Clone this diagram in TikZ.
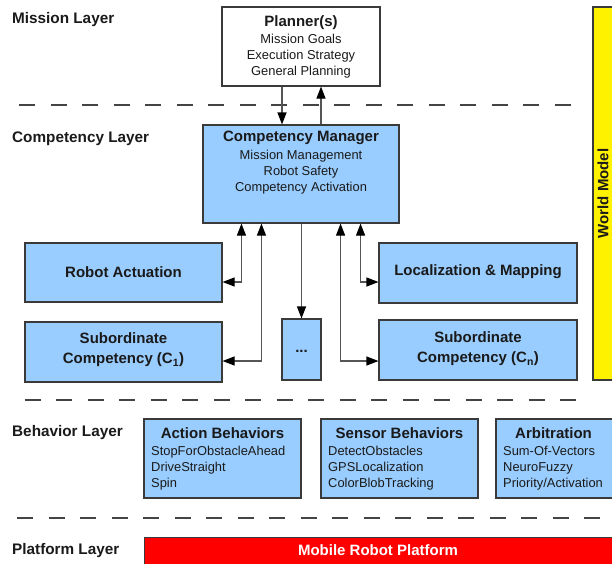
\documentclass[tikz,border=0pt]{standalone}
\usepackage{fontspec}
\setmainfont{Liberation Sans}
\usetikzlibrary{arrows.meta,calc}
\definecolor{boxblue}{HTML}{99CCFF}
\definecolor{boxborder}{HTML}{3A3A3A}
\definecolor{arrgray}{HTML}{555555}
\definecolor{dashgray}{HTML}{444444}
\definecolor{ink}{HTML}{1A1A1A}
\begin{document}
\begin{tikzpicture}[x=1pt,y=-1pt,
  box/.style={draw=boxborder, line width=1.1pt, fill=boxblue, inner sep=0pt},
  wbox/.style={box, fill=white},
  ttl/.style={font=\fontsize{15}{17}\selectfont\bfseries, inner sep=0pt, align=center, text=ink},
  txt/.style={font=\fontsize{12.9}{16}\selectfont, inner sep=0pt, text=ink},
  layer/.style={font=\fontsize{15.3}{17}\selectfont\bfseries, inner sep=0pt, anchor=west, text=ink},
  sep/.style={draw=dashgray, line width=1.2pt, dash pattern=on 16pt off 15.5pt},
  tip/.tip={Triangle[length=12pt,width=9pt,color=black]},
  arr/.style={draw=arrgray, line width=1.1pt, -tip},
  arrb/.style={draw=arrgray, line width=1.1pt, tip-tip}
]
\clip (0,0) rectangle (612,563);
\useasboundingbox (0,0) rectangle (612,563);

% layer labels
\node[layer] (lm) at (12,20) {Mission Layer};
\node[layer] (lc) at (12,138.5) {Competency Layer};
\node[layer] (lb) at (12,432.5) {Behavior Layer};
\node[layer] (lp) at (12,550.5) {Platform Layer};

% separators
\coordinate (s1a) at (19,105);  \coordinate (s1b) at (571,105);
\coordinate (s2a) at (24.5,400); \coordinate (s2b) at (578,400);
\coordinate (s3a) at (17,518);  \coordinate (s3b) at (601,518);
\draw[sep] (s1a) -- (s1b);
\draw[sep] (s2a) -- (s2b);
\draw[sep] (s3a) -- (s3b);

% world model
\node[draw=boxborder, line width=1.1pt, fill=yellow, minimum width=21pt, minimum height=373pt, inner sep=0pt] (wm) at (603.5,193.5) {};
\node[ttl, rotate=90] (wmt) at (603,193.5) {World Model};

% planner
\node[wbox, minimum width=158pt, minimum height=79pt] (pl) at (301,46.5) {};
\node[ttl] (plt) at (301,22.5) {Planner(s)};
\node[txt, align=center] (pll) at (301,56) {Mission Goals\\Execution Strategy\\General Planning};

% competency manager
\node[box, minimum width=196pt, minimum height=98pt] (cm) at (301,174) {};
\node[ttl] (cmt) at (301,138) {Competency Manager};
\node[txt, align=center] (cml) at (301,172) {Mission Management\\Robot Safety\\Competency Activation};

% competencies
\node[box, minimum width=197pt, minimum height=59pt] (ra) at (123.5,272.5) {};
\node[ttl] (rat) at (123.5,272) {Robot Actuation};
\node[box, minimum width=197pt, minimum height=60pt] (c1) at (123.5,352) {};
\node[ttl, font=\fontsize{15}{20}\selectfont\bfseries] (c1t) at (123.5,350) {Subordinate\\Competency (C\textsubscript{1})};
\node[box, minimum width=39pt, minimum height=61pt] (dots) at (301.5,349.5) {};
\node[ttl] (dotst) at (301.5,351) {...};
\node[box, minimum width=198pt, minimum height=60pt] (lmp) at (478,273) {};
\node[ttl] (lmpt) at (478,272) {Localization \& Mapping};
\node[box, minimum width=198pt, minimum height=60pt] (cn) at (478,350) {};
\node[ttl, font=\fontsize{15}{20}\selectfont\bfseries] (cnt) at (478,349) {Subordinate\\Competency (C\textsubscript{n})};

% arrows
\draw[arr] ([xshift=-19pt]pl.south) -- ([xshift=-19pt]pl.south |- cm.north);
\draw[arr] ([xshift=20pt]cm.north) -- ([xshift=20pt]cm.north |- pl.south);
\draw[arrb] ([xshift=39pt]cm.south west) |- ([yshift=-9.5pt]ra.east);
\draw[arrb] ([xshift=59pt]cm.south west) |- ([yshift=-9pt]c1.east);
\draw[arr] (cm.south -| dots.north) -- (dots.north);
\draw[arrb] ([xshift=-39pt]cm.south east) |- ([yshift=-9pt]lmp.west);
\draw[arrb] ([xshift=-59pt]cm.south east) |- ([yshift=-11pt]cn.west);

% behaviors
\node[box, minimum width=157pt, minimum height=79pt] (ab) at (222.5,458.5) {};
\node[ttl] (abt) at (222.5,433) {Action Behaviors};
\node[txt, align=left, anchor=west] (abl) at (151,468) {StopForObstacleAhead\\DriveStraight\\Spin};
\node[box, minimum width=157pt, minimum height=79pt] (sb) at (399.5,458.5) {};
\node[ttl] (sbt) at (399.5,433) {Sensor Behaviors};
\node[txt, align=left, anchor=west] (sbl) at (328,468) {DetectObstacles\\GPSLocalization\\ColorBlobTracking};
\node[box, minimum width=118pt, minimum height=79pt] (arb) at (555,458.5) {};
\node[ttl] (arbt) at (553.5,433) {Arbitration};
\node[txt, align=left, anchor=west] (arbl) at (503,468) {Sum-Of-Vectors\\NeuroFuzzy\\Priority/Activation};

% platform
\node[draw=boxborder, line width=1.1pt, fill=red, minimum width=480pt, minimum height=40pt, inner sep=0pt, anchor=north west] (plat) at (144,537) {};
\node[ttl, text=white] (platt) at (378,550) {Mobile Robot Platform};
\end{tikzpicture}
\end{document}
